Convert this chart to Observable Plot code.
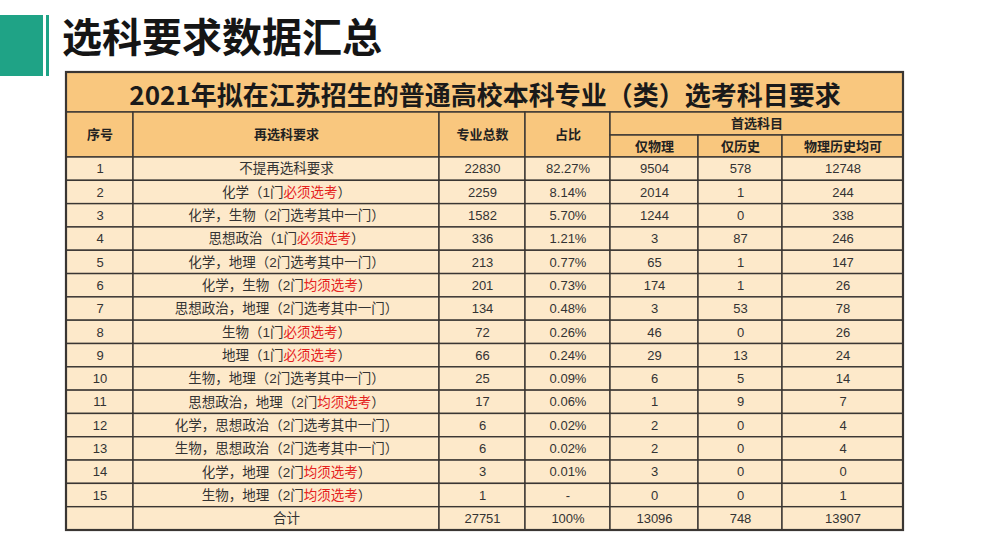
<!DOCTYPE html>
<html><head><meta charset="utf-8">
<script src="https://cdn.jsdelivr.net/npm/d3@7"></script>
<script src="https://cdn.jsdelivr.net/npm/@observablehq/plot@0.6"></script>
<style>
body{margin:0;background:#fff;width:1000px;height:541px;overflow:hidden;font-family:'Noto Sans CJK SC',sans-serif}
#hdr{position:relative;height:70px}
.blk{position:absolute;left:0;top:15px;width:43px;height:61px;background:#1fa386}
.bar{position:absolute;left:46px;top:15px;width:3px;height:61px;background:#1fa386}
#hdr h1{position:absolute;left:62px;top:15px;margin:0;font-size:40px;line-height:40px;font-weight:bold;color:#151515;font-family:'Noto Sans CJK SC',sans-serif}
#chart{position:relative}
</style></head>
<body>
<div id="hdr"><div class="blk"></div><div class="bar"></div><h1>选科要求数据汇总</h1></div>
<div id="chart"></div>
<script>
// ---- data ----
const tableTitle = "2021年拟在江苏招生的普通高校本科专业（类）选考科目要求";
const headers = ["序号", "再选科要求", "专业总数", "占比"];
const groupHeader = "首选科目";
const subHeaders = ["仅物理", "仅历史", "物理历史均可"];
const seq = ["1","2","3","4","5","6","7","8","9","10","11","12","13","14","15"];
const requirements = [
  "不提再选科要求",
  "化学（1门必须选考）",
  "化学，生物（2门选考其中一门）",
  "思想政治（1门必须选考）",
  "化学，地理（2门选考其中一门）",
  "化学，生物（2门均须选考）",
  "思想政治，地理（2门选考其中一门）",
  "生物（1门必须选考）",
  "地理（1门必须选考）",
  "生物，地理（2门选考其中一门）",
  "思想政治，地理（2门均须选考）",
  "化学，思想政治（2门选考其中一门）",
  "生物，思想政治（2门选考其中一门）",
  "化学，地理（2门均须选考）",
  "生物，地理（2门均须选考）"
];
const totals = [22830, 2259, 1582, 336, 213, 201, 134, 72, 66, 25, 17, 6, 6, 3, 1];
const shares = ["82.27%","8.14%","5.70%","1.21%","0.77%","0.73%","0.48%","0.26%","0.24%","0.09%","0.06%","0.02%","0.02%","0.01%","-"];
const physOnly = [9504, 2014, 1244, 3, 65, 174, 3, 46, 29, 6, 1, 2, 2, 3, 0];
const histOnly = [578, 1, 0, 87, 1, 1, 53, 0, 13, 5, 9, 0, 0, 0, 0];
const either = [12748, 244, 338, 246, 147, 26, 78, 26, 24, 14, 7, 4, 4, 0, 1];
const totalLabel = "合计";
const totalRow = ["", totalLabel, "27751", "100%", "13096", "748", "13907"];

// ---- layout ----
const W = 1000, H = 471;
const colEdges = [66, 133, 439, 525, 610, 698, 782, 903];
const yTop = 2, yTitleBottom = 42, ySubMid = 65, yHeadBottom = 87, yBottom = 460;
const nRows = 16;
const rowH = (yBottom - yHeadBottom) / nRows;
const headFill = "#f9c77e", rowFill = "#fde9ca", lineColor = "#3a3633";

const rows = seq.map((s, i) => [s, requirements[i], String(totals[i]), shares[i], String(physOnly[i]), String(histOnly[i]), String(either[i])]);
rows.push(totalRow);

const cells = [];
const texts = [];
const xmid = c => (colEdges[c] + colEdges[c + 1]) / 2;
// title
cells.push({x1: colEdges[0], x2: colEdges[7], y1: yTop, y2: yTitleBottom, fill: headFill});
texts.push({x: (colEdges[0] + colEdges[7]) / 2, y: yTitleBottom - 16, text: tableTitle, kind: "title"});
// headers
headers.forEach((h, c) => {
  cells.push({x1: colEdges[c], x2: colEdges[c + 1], y1: yTitleBottom, y2: yHeadBottom, fill: headFill});
  texts.push({x: xmid(c), y: (yTitleBottom + yHeadBottom) / 2, text: h, kind: "head"});
});
cells.push({x1: colEdges[4], x2: colEdges[7], y1: yTitleBottom, y2: ySubMid, fill: headFill});
texts.push({x: (colEdges[4] + colEdges[7]) / 2, y: (yTitleBottom + ySubMid) / 2, text: groupHeader, kind: "head"});
subHeaders.forEach((h, k) => {
  const c = 4 + k;
  cells.push({x1: colEdges[c], x2: colEdges[c + 1], y1: ySubMid, y2: yHeadBottom, fill: headFill});
  texts.push({x: xmid(c), y: (ySubMid + yHeadBottom) / 2, text: h, kind: "head"});
});
// body
rows.forEach((r, i) => {
  const y1 = yHeadBottom + i * rowH, y2 = y1 + rowH;
  r.forEach((v, c) => {
    cells.push({x1: colEdges[c], x2: colEdges[c + 1], y1, y2, fill: rowFill});
    if (v !== "") texts.push({x: xmid(c), y: (y1 + y2) / 2, text: v, kind: c === 1 ? "desc" : "body"});
  });
});

const fontStack = "'Liberation Sans', Arial, 'Noto Sans CJK SC', sans-serif";
const chart = Plot.plot({
  width: W, height: H,
  margin: 0,
  x: {domain: [0, W], range: [0, W], axis: null},
  y: {domain: [0, H], range: [0, H], axis: null},
  color: {type: "identity"},
  style: {fontFamily: fontStack, background: "transparent"},
  marks: [
    Plot.rect(cells, {x1: "x1", x2: "x2", y1: "y1", y2: "y2", fill: "fill", stroke: lineColor, strokeWidth: 1.4}),
    Plot.rect([{x1: colEdges[0], x2: colEdges[7], y1: yTop, y2: yBottom}], {x1: "x1", x2: "x2", y1: "y1", y2: "y2", fill: "none", stroke: lineColor, strokeWidth: 2.2}),
    Plot.text(texts.filter(d => d.kind === "title"), {x: "x", y: "y", text: "text", fontSize: 26, fontWeight: "bold", fill: "#1a1a1a", fontFamily: "'Noto Sans CJK SC', sans-serif"}),
    Plot.text(texts.filter(d => d.kind === "head"), {x: "x", y: "y", text: "text", fontSize: 13, fontWeight: "bold", fill: "#222", fontFamily: "'Noto Sans CJK SC', sans-serif"}),
    Plot.text(texts.filter(d => d.kind === "desc"), {x: "x", y: "y", text: "text", fontSize: 13.5, fill: "#333"}),
    Plot.text(texts.filter(d => d.kind === "body"), {x: "x", y: "y", text: "text", fontSize: 13, fill: "#333"})
  ]
});

// colour the required-subject phrases red
d3.select(chart).selectAll("text").each(function () {
  const t = this.textContent;
  const m = t.match(/^(.*门)(必须选考|均须选考)(.*)$/);
  if (m) {
    const s = d3.select(this);
    s.text(null);
    s.append("tspan").text(m[1]);
    s.append("tspan").attr("fill", "#e5211d").text(m[2]);
    s.append("tspan").text(m[3]);
  }
});
document.getElementById("chart").appendChild(chart);
</script>
</body></html>
